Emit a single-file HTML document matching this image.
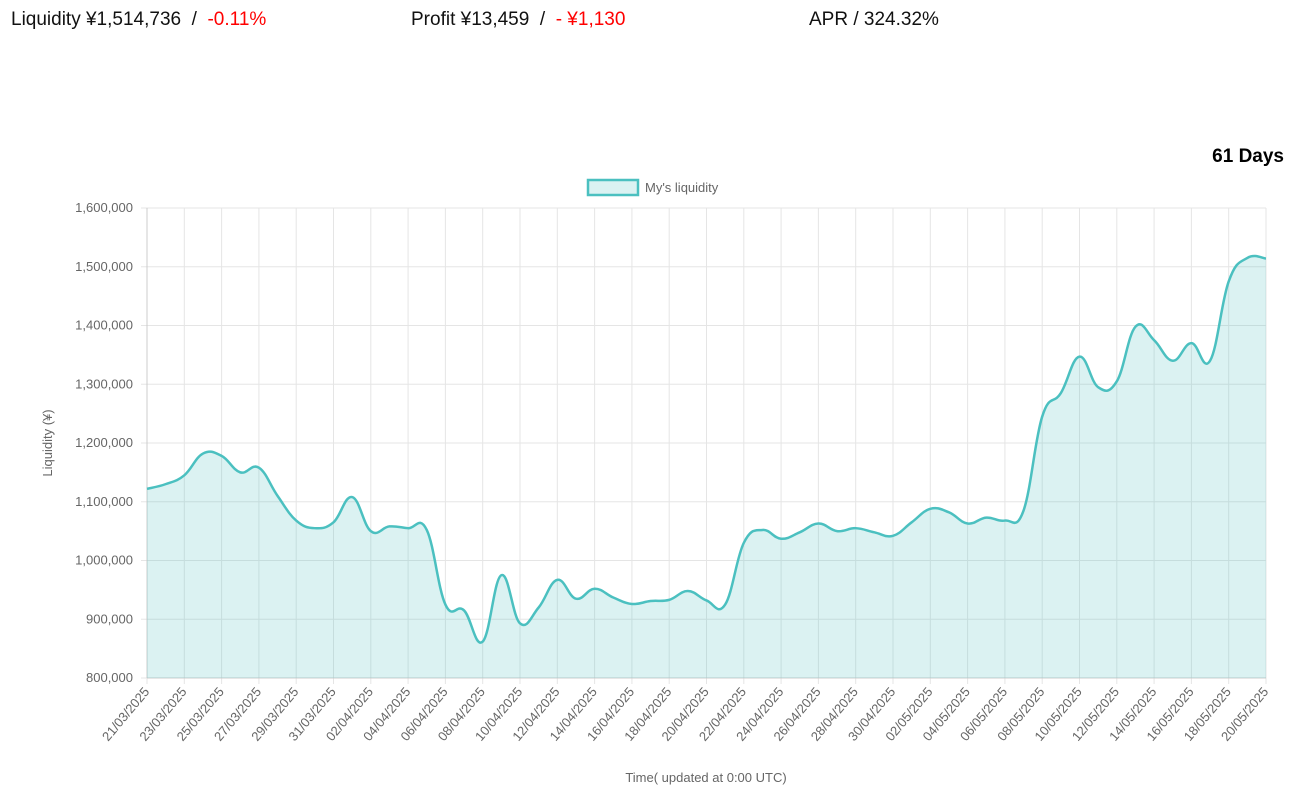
<!DOCTYPE html>
<html><head><meta charset="utf-8">
<style>
body{margin:0;width:1290px;height:792px;background:#fff;font-family:"Liberation Sans","Noto Sans CJK JP",sans-serif;overflow:hidden;position:relative}
.hdr{position:absolute;top:9px;font-size:19px;color:#111;white-space:nowrap}
.red{color:#f00}
#days{position:absolute;right:6px;top:146px;font-size:19px;font-weight:bold}
svg{position:absolute;left:0;top:0}
</style></head><body>
<div class="hdr" style="left:11px">Liquidity ¥1,514,736 &nbsp;/&nbsp; <span class="red">-0.11%</span></div>
<div class="hdr" style="left:411px">Profit ¥13,459 &nbsp;/&nbsp; <span class="red">- ¥1,130</span></div>
<div class="hdr" style="left:809px">APR / 324.32%</div>
<div id="days">61 Days</div>
<svg id="chart" width="1290" height="792"></svg>
<script>
const startDate = [2025, 2, 21];
const values = [1122,1130,1145,1182,1178,1150,1158,1110,1068,1055,1065,1108,1050,1058,1055,1052,925,915,862,975,893,920,967,935,952,937,926,931,933,948,932,925,1030,1052,1037,1048,1063,1050,1055,1048,1042,1065,1088,1082,1063,1073,1068,1085,1245,1285,1347,1295,1305,1398,1375,1340,1370,1340,1475,1515,1514];
const yTicks = [800000,900000,1000000,1100000,1200000,1300000,1400000,1500000,1600000];

const NS="http://www.w3.org/2000/svg";
const svg=document.getElementById('chart');
const L=147,R=1266,T=208,B=678,yMin=800000,yMax=1600000;
const n=values.length;
const xs=i=>L+(R-L)*i/(n-1);
const ys=v=>B-(B-T)*(v*1000-yMin)/(yMax-yMin);
function mk(tag,attrs){const e=document.createElementNS(NS,tag);for(const k in attrs)e.setAttribute(k,attrs[k]);svg.appendChild(e);return e;}
// y grid & labels
yTicks.forEach(t=>{
  const y=B-(B-T)*(t-yMin)/(yMax-yMin);
  const g=mk('line',{x1:L-6,x2:R,y1:y,y2:y,stroke:'#e5e5e5'});
  
  
  const tx=mk('text',{x:L-14,y:y+4,'text-anchor':'end','font-size':13,fill:'#666'});
  tx.textContent=t.toLocaleString('en-US');
  
  
});
// x grid & labels
for(let i=0;i<n;i+=2){
  const x=xs(i);
  const g=mk('line',{x1:x,x2:x,y1:T,y2:B+6,stroke:'#e5e5e5'});
  
  
  const d=new Date(Date.UTC(startDate[0],startDate[1],startDate[2]+i));
  const lab=String(d.getUTCDate()).padStart(2,'0')+'/'+String(d.getUTCMonth()+1).padStart(2,'0')+'/'+d.getUTCFullYear();
  const tx=mk('text',{x:x+3,y:B+14,'text-anchor':'end','font-size':13,fill:'#666',transform:`rotate(-50 ${x+3} ${B+14})`});
  tx.textContent=lab;
  
  
}
mk('line',{x1:L,x2:L,y1:T,y2:B,stroke:'#ccc'});
mk('line',{x1:L,x2:R,y1:B,y2:B,stroke:'#ccc'});
// smooth path
const pts=values.map((v,i)=>[xs(i),ys(v)]);
let d=`M${pts[0][0]},${pts[0][1]}`;
const tn=0.4;
for(let i=0;i<n-1;i++){
  const p0=pts[Math.max(0,i-1)],p1=pts[i],p2=pts[i+1],p3=pts[Math.min(n-1,i+2)];
  const c1=[p1[0]+(p2[0]-p0[0])*tn/2,p1[1]+(p2[1]-p0[1])*tn/2];
  const c2=[p2[0]-(p3[0]-p1[0])*tn/2,p2[1]-(p3[1]-p1[1])*tn/2];
  d+=` C${c1[0]},${c1[1]} ${c2[0]},${c2[1]} ${p2[0]},${p2[1]}`;
}
const area=mk('path',{d:d+` L${R},${B} L${L},${B} Z`,fill:'rgba(75,192,192,0.2)'});


const line=mk('path',{d:d,fill:'none',stroke:'#4bc0c0','stroke-width':2.5});


// legend
const lb=mk('rect',{x:588,y:180,width:50,height:15,fill:'rgba(75,192,192,0.2)',stroke:'#4bc0c0','stroke-width':2.5});


const lt=mk('text',{x:645,y:192,'font-size':13,fill:'#666'});
lt.textContent="My's liquidity";


const yt=mk('text',{x:52,y:443,'text-anchor':'middle','font-size':13,fill:'#666',transform:'rotate(-90 52 443)'});
yt.textContent='Liquidity (¥)';


const xt=mk('text',{x:706,y:782,'text-anchor':'middle','font-size':13,fill:'#666'});
xt.textContent='Time( updated at 0:00 UTC)';


</script>
</body></html>
